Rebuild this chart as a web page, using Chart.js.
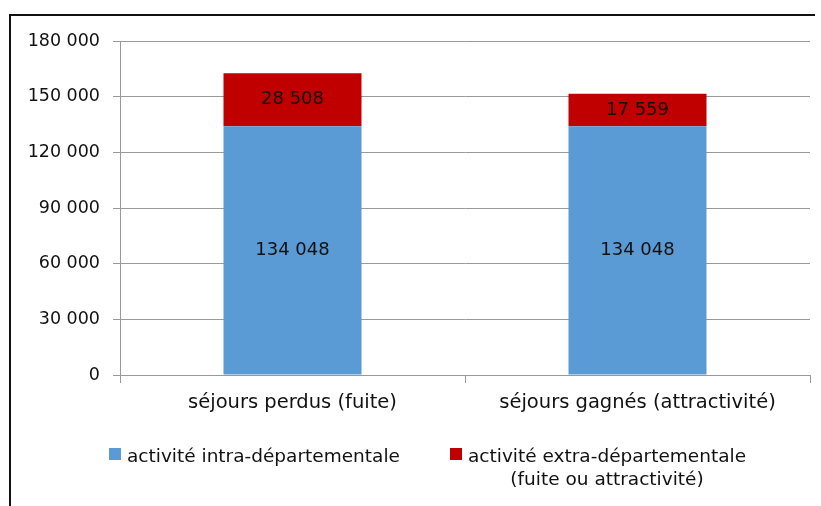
<!DOCTYPE html>
<html>
<head>
<meta charset="utf-8">
<script src="https://cdn.jsdelivr.net/npm/chart.js@4"></script>
<style>
  html, body { margin: 0; padding: 0; background: #fff; }
  #wrap { width: 821px; height: 506px; }
</style>
</head>
<body>
<div id="wrap"><canvas id="sejoursChart" width="821" height="506"></canvas></div>
<script>
const categories = ["séjours perdus (fuite)", "séjours gagnés (attractivité)"];
const intraValues = [134048, 134048];
const extraValues = [28508, 17559];
const seriesNames = ["activité intra-départementale", ["activité extra-départementale", "(fuite ou attractivité)"]];
const yTicks = [0, 30000, 60000, 90000, 120000, 150000, 180000];

const FONT = "'DejaVu Sans', sans-serif";

function fmt(v) {
    return String(v).replace(/\B(?=(\d{3})+(?!\d))/g, " ");
}

// values written in the middle of each segment
const segmentLabels = {
    id: "segmentLabels",
    afterDatasetsDraw(chart) {
        const ctx = chart.ctx;
        ctx.save();
        ctx.font = "18px " + FONT;
        ctx.fillStyle = "#111";
        ctx.textAlign = "center";
        ctx.textBaseline = "middle";
        chart.data.datasets.forEach((ds, i) => {
            chart.getDatasetMeta(i).data.forEach((bar, j) => {
                ctx.fillText(fmt(ds.data[j]), bar.x, (bar.y + bar.base) / 2);
            });
        });
        ctx.restore();
    },
};

// frame + legend below the axis
const frameAndLegend = {
    id: "frameAndLegend",
    afterDraw(chart) {
        const ctx = chart.ctx;
        ctx.save();
        ctx.strokeStyle = "#111";
        ctx.lineWidth = 2;
        ctx.beginPath();
        ctx.moveTo(10, 506);
        ctx.lineTo(10, 15);
        ctx.lineTo(815, 15);
        ctx.stroke();

        ctx.font = "18.5px " + FONT;
        ctx.textBaseline = "alphabetic";
        const ds = chart.data.datasets;

        ctx.fillStyle = ds[0].backgroundColor;
        ctx.fillRect(109, 448, 12, 12);
        ctx.fillStyle = "#111";
        ctx.textAlign = "left";
        ctx.fillText(seriesNames[0], 127, 462);

        ctx.fillStyle = ds[1].backgroundColor;
        ctx.fillRect(450, 448, 12, 12);
        ctx.fillStyle = "#111";
        const w = ctx.measureText(seriesNames[1][0]).width;
        ctx.fillText(seriesNames[1][0], 468, 462);
        ctx.textAlign = "center";
        ctx.fillText(seriesNames[1][1], 468 + w / 2, 485);
        ctx.restore();
    },
};

const ctx = document.getElementById("sejoursChart").getContext("2d");
const sejoursChart = new Chart(ctx, {
    type: "bar",
    data: {
        labels: categories,
        datasets: [
            {
                label: "activité intra-départementale",
                data: intraValues,
                backgroundColor: "#5B9BD5",
                barPercentage: 0.8,
                categoryPercentage: 0.5,
            },
            {
                label: "activité extra-départementale (fuite ou attractivité)",
                data: extraValues,
                backgroundColor: "#C00000",
                barPercentage: 0.8,
                categoryPercentage: 0.5,
            },
        ],
    },
    options: {
        responsive: false,
        animation: false,
        layout: { padding: { top: 41, right: 11, left: 0, bottom: 0 } },
        plugins: {
            legend: { display: false },
            tooltip: { enabled: false },
        },
        scales: {
            x: {
                stacked: true,
                afterFit: (scale) => { scale.height = 131; },
                grid: {
                    offset: true,
                    drawOnChartArea: false,
                    color: "#999",
                    tickLength: 8,
                },
                border: { color: "#999" },
                ticks: {
                    color: "#111",
                    padding: 8,
                    font: { family: FONT, size: 19.5 },
                },
            },
            y: {
                stacked: true,
                min: 0,
                max: 180000,
                afterFit: (scale) => { scale.width = 120; },
                afterBuildTicks: (scale) => { scale.ticks = yTicks.map((v) => ({ value: v })); },
                grid: { color: "#999", tickLength: 7 },
                border: { color: "#999" },
                ticks: {
                    color: "#111",
                    padding: 13,
                    font: { family: FONT, size: 17.5 },
                    callback: (v) => fmt(v),
                },
            },
        },
    },
    plugins: [segmentLabels, frameAndLegend],
});
</script>
</body>
</html>
